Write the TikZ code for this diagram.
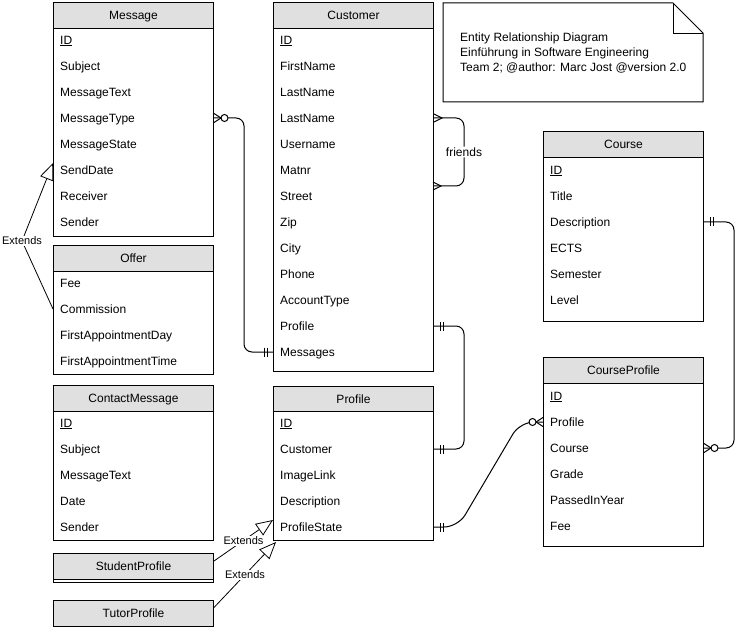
\documentclass[tikz,border=0pt]{standalone}
\usepackage{fontspec}
\setmainfont{Liberation Sans}
\usetikzlibrary{arrows.meta}

\definecolor{headgray}{HTML}{E0E0E0}

% ER tips: one and only one, many, zero or many
\pgfdeclarearrow{
  name = erone,
  setup code = {
    \pgfarrowssettipend{0pt}
    \pgfarrowssetlineend{0pt}
    \pgfarrowssetbackend{-10pt}
    \pgfarrowsupperhullpoint{0pt}{5pt}
    \pgfarrowsupperhullpoint{-10pt}{5pt}
  },
  drawing code = {
    \pgfpathmoveto{\pgfqpoint{-6pt}{4.5pt}}
    \pgfpathlineto{\pgfqpoint{-6pt}{-4.5pt}}
    \pgfpathmoveto{\pgfqpoint{-9pt}{4.5pt}}
    \pgfpathlineto{\pgfqpoint{-9pt}{-4.5pt}}
    \pgfusepathqstroke
  }
}
\pgfdeclarearrow{
  name = ermany,
  setup code = {
    \pgfarrowssettipend{0pt}
    \pgfarrowssetlineend{0pt}
    \pgfarrowssetbackend{-8pt}
    \pgfarrowsupperhullpoint{0pt}{4pt}
    \pgfarrowsupperhullpoint{-8pt}{0pt}
  },
  drawing code = {
    \pgfpathmoveto{\pgfqpoint{0pt}{4pt}}
    \pgfpathlineto{\pgfqpoint{-8pt}{0pt}}
    \pgfpathlineto{\pgfqpoint{0pt}{-4pt}}
    \pgfusepathqstroke
  }
}
\pgfdeclarearrow{
  name = erzeromany,
  setup code = {
    \pgfarrowssettipend{0pt}
    \pgfarrowssetlineend{0pt}
    \pgfarrowssetbackend{-14pt}
    \pgfarrowsupperhullpoint{0pt}{4.5pt}
    \pgfarrowsupperhullpoint{-14pt}{3.5pt}
  },
  drawing code = {
    \pgfpathmoveto{\pgfqpoint{0pt}{4.5pt}}
    \pgfpathlineto{\pgfqpoint{-7pt}{0pt}}
    \pgfpathlineto{\pgfqpoint{0pt}{-4.5pt}}
    \pgfusepathqstroke
    \pgfsetfillcolor{white}
    \pgfpathcircle{\pgfqpoint{-10.5pt}{0pt}}{3.5pt}
    \pgfusepathqfillstroke
  }
}

\tikzset{
  tablebox/.style={draw, line width=1pt, anchor=north west, minimum width=160pt, inner sep=0pt},
  tablehead/.style={tablebox, fill=headgray, minimum height=26pt, text height=8.5pt, text depth=0pt},
  field/.style={anchor=west, inner sep=0pt, text height=8.5pt, text depth=0pt},
  rel/.style={line width=1pt, rounded corners=8pt},
  extends/.style={line width=0.8pt, -{Triangle[length=17pt, width=14pt, fill=white]}},
  extlabel/.style={fill=white, inner sep=1pt, font=\fontsize{11pt}{13pt}\selectfont, text height=8pt, text depth=0pt},
}

\begin{document}
\begin{tikzpicture}[x=1pt, y=-1pt, font=\fontsize{12pt}{15pt}\selectfont]
  \useasboundingbox (0,0) rectangle (744,628);

  % Message
  \node[tablebox, minimum height=234pt] (message) at (53,2) {};
  \node[tablehead] (message-head) at (53,2) {Message};
  \draw
    (60,40) node[field] (msg-id) {\underline{ID}}
    (60,66) node[field] (msg-subject) {Subject}
    (60,92) node[field] (msg-text) {MessageText}
    (60,118) node[field] (msg-type) {MessageType}
    (60,144) node[field] (msg-state) {MessageState}
    (60,170) node[field] (msg-senddate) {SendDate}
    (60,196) node[field] (msg-receiver) {Receiver}
    (60,222) node[field] (msg-sender) {Sender};

  % Offer
  \node[tablebox, minimum height=129pt] (offer) at (53,245) {};
  \node[tablehead] (offer-head) at (53,245) {Offer};
  \draw
    (60,283) node[field] (off-fee) {Fee}
    (60,309) node[field] (off-commission) {Commission}
    (60,335) node[field] (off-day) {FirstAppointmentDay}
    (60,361) node[field] (off-time) {FirstAppointmentTime};

  % ContactMessage
  \node[tablebox, minimum height=155pt] (contact) at (53,385) {};
  \node[tablehead] (contact-head) at (53,385) {ContactMessage};
  \draw
    (60,423) node[field] (con-id) {\underline{ID}}
    (60,449) node[field] (con-subject) {Subject}
    (60,475) node[field] (con-text) {MessageText}
    (60,501) node[field] (con-date) {Date}
    (60,527) node[field] (con-sender) {Sender};

  % StudentProfile, TutorProfile
  \node[tablebox, minimum height=29pt] (student) at (53,553) {};
  \node[tablehead] (student-head) at (53,553) {StudentProfile};
  \node[tablehead] (tutor) at (53,600) {TutorProfile};

  % Customer
  \node[tablebox, minimum height=369pt] (customer) at (273,2) {};
  \node[tablehead] (customer-head) at (273,2) {Customer};
  \draw
    (280,40) node[field] (cust-id) {\underline{ID}}
    (280,66) node[field] (cust-firstname) {FirstName}
    (280,92) node[field] (cust-lastname) {LastName}
    (280,118) node[field] (cust-lastname2) {LastName}
    (280,144) node[field] (cust-username) {Username}
    (280,170) node[field] (cust-matnr) {Matnr}
    (280,196) node[field] (cust-street) {Street}
    (280,222) node[field] (cust-zip) {Zip}
    (280,248) node[field] (cust-city) {City}
    (280,274) node[field] (cust-phone) {Phone}
    (280,300) node[field] (cust-accounttype) {AccountType}
    (280,326) node[field] (cust-profile) {Profile}
    (280,352) node[field] (cust-messages) {Messages};

  % Profile
  \node[tablebox, minimum height=154pt] (profile) at (273,386) {};
  \node[tablehead, minimum height=25pt] (profile-head) at (273,386) {Profile};
  \draw
    (280,423) node[field] (prof-id) {\underline{ID}}
    (280,449) node[field] (prof-customer) {Customer}
    (280,475) node[field] (prof-image) {ImageLink}
    (280,501) node[field] (prof-desc) {Description}
    (280,527) node[field] (prof-state) {ProfileState};

  % Course
  \node[tablebox, minimum height=190pt] (course) at (543,131) {};
  \node[tablehead] (course-head) at (543,131) {Course};
  \draw
    (550,170) node[field] (crs-id) {\underline{ID}}
    (550,196) node[field] (crs-title) {Title}
    (550,222) node[field] (crs-desc) {Description}
    (550,248) node[field] (crs-ects) {ECTS}
    (550,274) node[field] (crs-semester) {Semester}
    (550,300) node[field] (crs-level) {Level};

  % CourseProfile
  \node[tablebox, minimum height=189pt] (courseprofile) at (543,357) {};
  \node[tablehead] (courseprofile-head) at (543,357) {CourseProfile};
  \draw
    (550,396) node[field] (cprof-id) {\underline{ID}}
    (550,422) node[field] (cprof-profile) {Profile}
    (550,448) node[field] (cprof-course) {Course}
    (550,474) node[field] (cprof-grade) {Grade}
    (550,500) node[field] (cprof-year) {PassedInYear}
    (550,526) node[field] (cprof-fee) {Fee};

  % note
  \draw[line width=1pt] (443,3) -- (673,3) -- (703,33) -- (703,102) -- (443,102) -- cycle;
  \draw[line width=0.8pt] (673,3) -- (673,33) -- (703,33);
  \node[anchor=west, align=left, inner sep=0pt] (note) at (460,53)
    {Entity Relationship Diagram\\Einführung in Software Engineering\\Team 2; @author: Marc Jost @version 2.0};

  % relations
  \coordinate (friends-in) at (433,186);
  \draw[rel, erzeromany-erone] (msg-type -| message.east) -- ++(30,0) |- (cust-messages -| customer.west);
  \draw[rel, ermany-ermany] (cust-lastname2 -| customer.east) -- ++(30,0)
    |- node[pos=0.25, fill=white, inner sep=1pt] (friends) {friends} (friends-in);
  \draw[rel, erone-erone] (cust-profile -| customer.east) -- ++(30,0) |- (prof-customer -| profile.east);
  \draw[rel, rounded corners=14pt, erone-erzeromany] (prof-state -| profile.east) -- ++(24,0) -- ++(62,-105)
    -- (cprof-profile -| courseprofile.west);
  \draw[rel, erone-erzeromany] (crs-desc -| course.east) -- ++(30,0) |- (cprof-course -| courseprofile.east);

  % extends
  \coordinate (ext-bend) at (22,241);
  \coordinate (ext-msg) at (53,163);
  \draw[extends] (offer.west |- off-commission) -- (ext-bend) node[extlabel] {Extends} -- (ext-msg);
  \draw[extends] ([yshift=7pt]student.east) -- node[extlabel] {Extends} ([yshift=21pt]profile.south west);
  \draw[extends] ([yshift=6pt]tutor.east) -- node[extlabel] {Extends} ([xshift=3pt,yshift=-1pt]profile.south west);
\end{tikzpicture}
\end{document}
